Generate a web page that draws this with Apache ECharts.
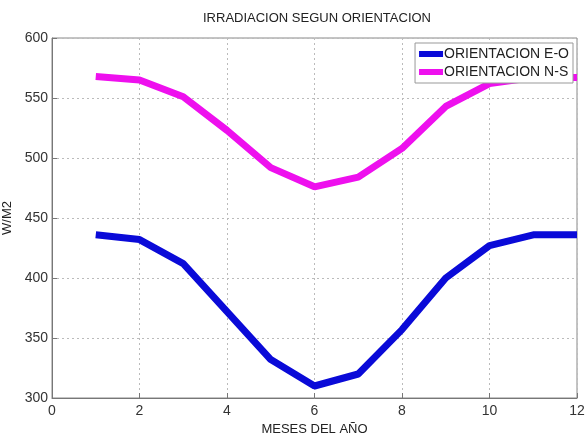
<!DOCTYPE html>
<html>
<head>
<meta charset="utf-8">
<script src="https://cdn.jsdelivr.net/npm/echarts@6/dist/echarts.min.js"></script>
<style>
html,body{margin:0;padding:0;background:#fff;}
#c{width:585px;height:436px;}
</style>
</head>
<body>
<div id="c"></div>
<script>
const months = [1,2,3,4,5,6,7,8,9,10,11,12];
const eoValues = [436,432,412,372,332,310,320,357,400,427,436,436];
const nsValues = [568,565,551,523,492,476,484,508,543,562,567,567];
const seriesNames = ['ORIENTACION E-O','ORIENTACION N-S'];
const titleText = 'IRRADIACION SEGUN ORIENTACION';
const xName = 'MESES DEL AÑO';
const yName = 'W/M2';

const chart = echarts.init(document.getElementById('c'));
const font = 'Liberation Sans, Arial, sans-serif';
chart.setOption({
  animation:false,
  backgroundColor:'#fff',
  title:{text:titleText,left:312,textAlign:'center',top:7,
    textStyle:{fontFamily:font,fontSize:13,fontWeight:'normal',color:'#222'}},
  grid:{left:52,right:8,top:38,bottom:38,outerBoundsMode:'none',containLabel:false,
    show:true,borderColor:'#888',borderWidth:1,backgroundColor:'#fff'},
  legend:{right:12,top:43,orient:'vertical',backgroundColor:'#fff',borderColor:'#999',borderWidth:1,
    padding:[4,4,4,4],itemGap:4,itemWidth:24,itemHeight:6,icon:'rect',
    textStyle:{fontFamily:font,fontSize:14,color:'#222',padding:[0,0,0,-4]},
    data:seriesNames},
  xAxis:{type:'value',min:0,max:12,interval:2,name:xName,nameLocation:'middle',nameGap:22,
    nameTextStyle:{fontFamily:font,fontSize:13,color:'#222'},
    axisLine:{show:true,lineStyle:{color:'#777'}},
    axisTick:{show:true,inside:true,length:5,lineStyle:{color:'#777'}},
    axisLabel:{fontFamily:font,fontSize:14,color:'#333',margin:6},
    splitLine:{show:true,lineStyle:{color:'#bbb',type:[2,3]}}},
  yAxis:{type:'value',min:300,max:600,interval:50,name:yName,nameLocation:'middle',nameGap:36,
    nameTextStyle:{fontFamily:font,fontSize:13,color:'#222'},
    axisLine:{show:true,lineStyle:{color:'#777'}},
    axisTick:{show:true,inside:true,length:5,lineStyle:{color:'#777'}},
    axisLabel:{fontFamily:font,fontSize:14,color:'#333',margin:4},
    splitLine:{show:true,lineStyle:{color:'#bbb',type:[2,3]}}},
  series:[
    {name:seriesNames[0],type:'line',data:months.map((m,i)=>[m,eoValues[i]]),
     symbol:'none',lineStyle:{width:7,color:'#0a0ad8'},itemStyle:{color:'#0a0ad8'}},
    {name:seriesNames[1],type:'line',data:months.map((m,i)=>[m,nsValues[i]]),
     symbol:'none',lineStyle:{width:7,color:'#ee10ee'},itemStyle:{color:'#ee10ee'}}
  ]
});
</script>
</body>
</html>
